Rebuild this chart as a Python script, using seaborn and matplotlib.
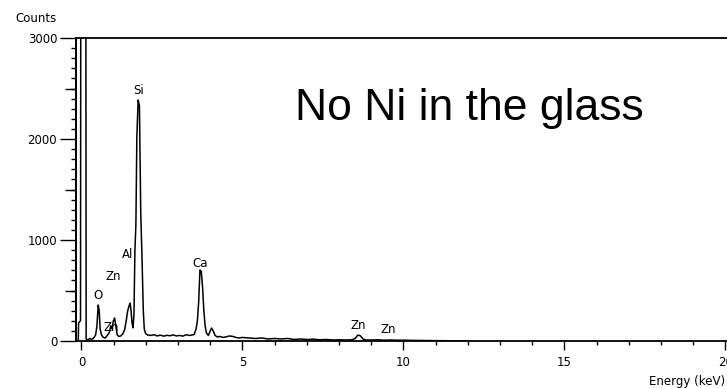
import numpy as np
import pandas as pd
import matplotlib
matplotlib.use("Agg")
import matplotlib.pyplot as plt
import seaborn as sns

# ---- data ----
energy_kev = [-0.17, -0.10, -0.09, -0.03, -0.015, 0.13, 0.145, 0.20, 0.26, 0.32,
              0.38, 0.44, 0.48, 0.52, 0.55, 0.58, 0.62, 0.68, 0.74, 0.80,
              0.86, 0.91, 0.95, 0.99, 1.03, 1.07, 1.11, 1.16, 1.22, 1.28,
              1.34, 1.39, 1.43, 1.47, 1.51, 1.54, 1.57, 1.60, 1.63, 1.66,
              1.69, 1.72, 1.76, 1.80, 1.84, 1.88, 1.92, 1.95, 1.99, 2.05,
              2.15, 2.25, 2.35, 2.45, 2.55, 2.65, 2.75, 2.85, 2.95, 3.05,
              3.15, 3.25, 3.35, 3.45, 3.50, 3.56, 3.60, 3.64, 3.68, 3.72,
              3.76, 3.80, 3.84, 3.88, 3.94, 4.00, 4.04, 4.09, 4.15, 4.22,
              4.30, 4.40, 4.50, 4.60, 4.70, 4.80, 4.90, 5.00, 5.20, 5.40,
              5.60, 5.80, 6.00, 6.20, 6.40, 6.60, 6.80, 7.00, 7.20, 7.40,
              7.60, 7.80, 8.00, 8.20, 8.40, 8.50, 8.58, 8.66, 8.75, 8.85,
              9.00, 9.20, 9.40, 9.60, 9.80, 10.00, 10.30, 10.60, 10.90, 11.20,
              11.50, 11.90, 12.00]
counts = [0, 0, 180, 200, 6000, 6000, 20, 10, 25, 15,
          30, 60, 150, 356, 300, 120, 60, 35, 30, 55,
          80, 150, 120, 200, 228, 140, 60, 45, 50, 70,
          110, 200, 290, 340, 376, 300, 180, 130, 260, 900,
          1150, 2020, 2386, 2330, 1280, 820, 300, 120, 75, 60,
          55, 62, 50, 58, 48, 56, 52, 60, 50, 55,
          48, 62, 55, 60, 65, 120, 200, 390, 703, 690,
          538, 300, 150, 80, 55, 100, 128, 100, 55, 40,
          45, 35, 42, 50, 45, 35, 30, 35, 30, 25,
          30, 20, 25, 20, 25, 15, 20, 15, 18, 12,
          15, 10, 12, 10, 12, 25, 58, 52, 18, 10,
          10, 12, 8, 10, 8, 8, 6, 5, 4, 3,
          2, 1, 0]

peak_labels = ["O", "Zn", "Zn", "Al", "Si", "Ca", "Zn", "Zn"]
label_x = [0.51, 0.98, 0.92, 1.44, 1.79, 3.68, 8.59, 9.52]
label_y = [455, 643, 129, 861, 2485, 772, 158, 109]

x_major = [0, 5, 10, 15, 20]
y_major = [0, 1000, 2000, 3000]
y_mid = [500, 1500, 2500]

# ---- figure ----
sns.set_style("white", {"text.color": "black", "xtick.color": "black",
                        "ytick.color": "black", "axes.edgecolor": "black",
                        "xtick.bottom": True, "ytick.left": True})
plt.rcParams['font.family'] = ['DejaVu Sans']
plt.rcParams['text.color'] = 'black'

W, H = 727, 388
fig = plt.figure(figsize=(W / 100, H / 100), dpi=100)
x0, x1, pxk = -0.17, 21.5, 32.2
ax = fig.add_axes([76 / W, (H - 341) / H, (x1 - x0) * pxk / W, (341 - 38) / H])

df = pd.DataFrame({"Energy": energy_kev, "Counts": counts})
sns.lineplot(data=df, x="Energy", y="Counts", ax=ax, color="black",
             linewidth=1.1, estimator=None, zorder=3)

ax.set_xlim(x0, x1)
ax.set_ylim(0, 3000)
ax.set_xlabel("")
ax.set_ylabel("")

for s in ax.spines.values():
    s.set_visible(True)
    s.set_color("black")
    s.set_linewidth(1.3)

ax.set_xticks(x_major)
ax.set_xticks(np.arange(0, 22, 1), minor=True)
ax.set_yticks(y_major)
ax.set_yticks(np.arange(0, 3001, 100), minor=True)
ax.tick_params(axis="x", which="major", bottom=True, length=6.5, width=1,
               direction="out", pad=4.5, labelsize=8.5, colors="black")
ax.tick_params(axis="x", which="minor", bottom=True, length=3, width=1,
               direction="out", color="black")
ax.tick_params(axis="y", which="major", left=True, length=11.5, width=1,
               direction="out", pad=2, labelsize=8.5, colors="black")
ax.tick_params(axis="y", which="minor", left=True, length=3.6, width=1,
               direction="out", color="black")

sec = ax.secondary_yaxis("left")
sec.set_yticks(y_mid)
sec.set_yticklabels([])
sec.tick_params(axis="y", left=True, length=8, width=1, direction="out", color="black")
sec.spines["left"].set_linewidth(1.3)

for t, x, y in zip(peak_labels, label_x, label_y):
    ax.text(x, y, t, ha="center", va="center", fontsize=8.5, color="black", zorder=2)

fig.text(15 / W, 1 - 18 / H, "Counts", ha="left", va="center", fontsize=8.5, color="black")
fig.text(649 / W, 1 - 381 / H, "Energy (keV)", ha="left", va="center", fontsize=8.5,
         color="black")
fig.text(295 / W, 1 - 120 / H, "No Ni in the glass", ha="left", va="baseline",
         fontsize=32, color="black", family=["Liberation Sans", "DejaVu Sans"])

fig.savefig("out.png", dpi=100)
